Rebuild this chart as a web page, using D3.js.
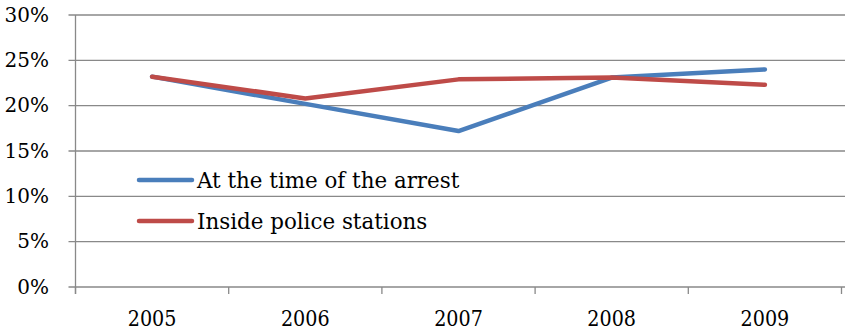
<!DOCTYPE html>
<html>
<head>
<meta charset="utf-8">
<script src="https://cdn.jsdelivr.net/npm/d3@7"></script>
<style>
  body { margin: 0; background: #fff; }
</style>
</head>
<body>
<div id="chart"></div>
<script>
var years = ["2005", "2006", "2007", "2008", "2009"]
var arrest = [23.2, 20.2, 17.2, 23.1, 24.0]
var stations = [23.2, 20.8, 22.9, 23.1, 22.3]
var yTicks = [0, 5, 10, 15, 20, 25, 30]
var seriesNames = ["At the time of the arrest", "Inside police stations"]
var colors = ["#4a7ebb", "#be4b48"]

var width = 846, height = 333
var margin = {top: 15, right: 5, bottom: 46, left: 75.5}
var serif = "DejaVu Serif"

var svg = d3.select("#chart").append("svg")
  .attr("width", width)
  .attr("height", height)

var x = d3.scaleBand()
  .domain(years)
  .range([margin.left, 841.5])

var y = d3.scaleLinear()
  .domain([0, 30])
  .range([height - margin.bottom, margin.top])

// squeeze text a bit so the wide DejaVu glyphs take the width of the original font
function squeeze(sel, k){
  sel.each(function(){
    var w = this.getComputedTextLength()
    d3.select(this).attr("textLength", w * k).attr("lengthAdjust", "spacingAndGlyphs")
  })
}

// gridlines (with little left ticks)
svg.append("g")
  .selectAll("line")
  .data(yTicks)
  .enter().append("line")
  .attr("x1", margin.left - 7)
  .attr("x2", 845)
  .attr("y1", d => y(d))
  .attr("y2", d => y(d))
  .attr("stroke", "#898989")
  .attr("stroke-width", 1.3)

// y axis line
svg.append("line")
  .attr("x1", margin.left).attr("x2", margin.left)
  .attr("y1", y(30)).attr("y2", y(0) + 7)
  .attr("stroke", "#898989")
  .attr("stroke-width", 1.3)

// x ticks at band edges
var edges = years.map(d => x(d)).concat([x.range()[1]])
svg.append("g")
  .selectAll("line")
  .data(edges)
  .enter().append("line")
  .attr("x1", d => d).attr("x2", d => d)
  .attr("y1", y(0)).attr("y2", y(0) + 7)
  .attr("stroke", "#898989")
  .attr("stroke-width", 1.3)

// y labels
svg.append("g")
  .selectAll("text")
  .data(yTicks)
  .enter().append("text")
  .attr("x", 49)
  .attr("y", d => y(d) + 6.5)
  .attr("text-anchor", "end")
  .attr("font-family", serif)
  .attr("font-size", 20)
  .text(d => d + "%")

// x labels
svg.append("g")
  .selectAll("text")
  .data(years)
  .enter().append("text")
  .attr("x", d => x(d) + x.bandwidth() / 2)
  .attr("y", 326)
  .attr("text-anchor", "middle")
  .attr("font-family", serif)
  .attr("font-size", 22)
  .text(d => d)
  .call(squeeze, 0.87)

var line = d3.line()
  .x((d, i) => x(years[i]) + x.bandwidth() / 2)
  .y(d => y(d))

var series = [arrest, stations]
series.forEach(function(s, i){
  svg.append("path")
    .datum(s)
    .attr("fill", "none")
    .attr("stroke", colors[i])
    .attr("stroke-width", 4.5)
    .attr("stroke-linecap", "round")
    .attr("stroke-linejoin", "round")
    .attr("d", line)
})

// legend
var legend = svg.append("g")
seriesNames.forEach(function(name, i){
  var ly = 180 + i * 41
  legend.append("line")
    .attr("x1", 139).attr("x2", 192)
    .attr("y1", ly).attr("y2", ly)
    .attr("stroke", colors[i])
    .attr("stroke-width", 4.5)
    .attr("stroke-linecap", "round")
  legend.append("text")
    .attr("x", 197)
    .attr("y", ly + 8)
    .attr("font-family", serif)
    .attr("font-size", 23)
    .text(name)
    .call(squeeze, 0.93)
})
</script>
</body>
</html>
